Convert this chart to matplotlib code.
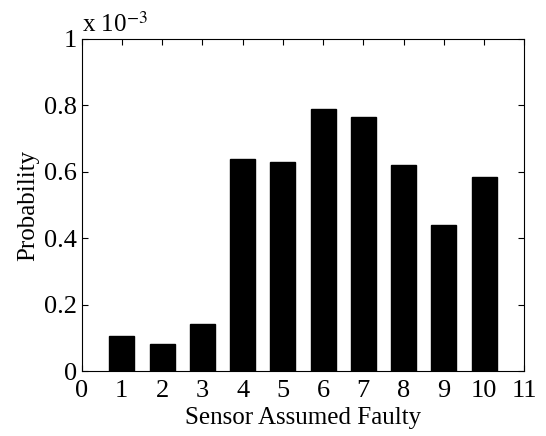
import matplotlib
matplotlib.use("Agg")
import matplotlib.pyplot as plt

sensors = [1, 2, 3, 4, 5, 6, 7, 8, 9, 10]
probability = [0.106, 0.081, 0.142, 0.638, 0.629, 0.788, 0.764, 0.620, 0.440, 0.584]  # x 1e-3
xticks = list(range(0, 12))
yticks = [0, 0.2, 0.4, 0.6, 0.8, 1.0]
ytick_labels = ["0", "0.2", "0.4", "0.6", "0.8", "1"]

plt.rcParams['font.family'] = ['Liberation Serif', 'DejaVu Serif']
plt.rcParams['mathtext.fontset'] = 'stix'

fig = plt.figure(figsize=(5.46, 4.36), dpi=100)
ax = fig.add_axes([0.1493, 0.1484, 0.8112, 0.7622])
ax.bar(sensors, probability, width=0.62, color='black', edgecolor='black')
ax.set_xlim(0, 11)
ax.set_ylim(0, 1)
ax.set_xticks(xticks)
ax.set_yticks(yticks)
ax.set_yticklabels(ytick_labels)
ax.tick_params(direction='in', top=True, right=True, length=4, width=0.8,
               labelsize=19)
ax.tick_params(axis='x', pad=6)
ax.tick_params(axis='y', pad=3)
for s in ax.spines.values():
    s.set_linewidth(0.8)
ax.set_xlabel("Sensor Assumed Faulty", fontsize=18, labelpad=4)
ax.set_ylabel("Probability", fontsize=18, labelpad=4)
ax.text(0.0, 1.005, r"x 10$^{-3}$", transform=ax.transAxes, fontsize=18,
        ha='left', va='bottom')
fig.savefig("out.png", dpi=100)
